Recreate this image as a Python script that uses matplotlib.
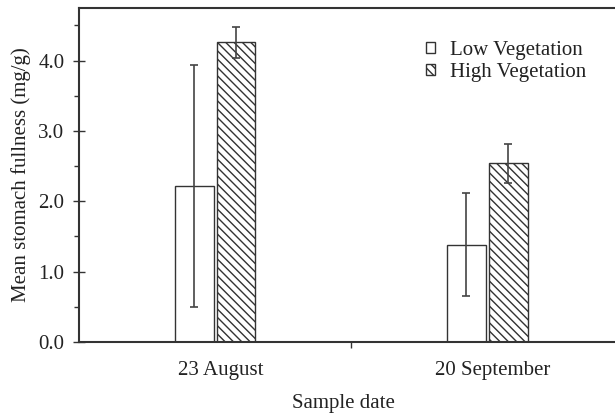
import numpy as np
import matplotlib
matplotlib.use('Agg')
import matplotlib.pyplot as plt
from matplotlib.ticker import MultipleLocator

plt.rcParams['font.family'] = ['Liberation Serif', 'DejaVu Serif']
plt.rcParams['hatch.linewidth'] = 1.0

# data
dates = ['23 August', '20 September']
low_mean = [2.22, 1.38]
low_lo = [0.50, 0.65]
low_hi = [3.94, 2.12]
high_mean = [4.26, 2.54]
high_lo = [4.04, 2.26]
high_hi = [4.48, 2.81]

x = np.arange(len(dates))
w = 0.143
off = 0.077
dark = '#333333'
txt = '#222222'
fs = 15

fig = plt.figure(figsize=(6.15, 4.16), dpi=100)
ax = fig.add_axes([0.1285, 0.178, 0.8715, 0.803])

low_err = [np.subtract(low_mean, low_lo), np.subtract(low_hi, low_mean)]
high_err = [np.subtract(high_mean, high_lo), np.subtract(high_hi, high_mean)]

ax.bar(x - off, low_mean, w, color='white', edgecolor=dark, linewidth=1.0,
       label='Low Vegetation', zorder=2)
ax.bar(x + off, high_mean, w, color='white', edgecolor=dark, linewidth=1.0,
       hatch='\\\\\\\\', label='High Vegetation', zorder=2)
ax.errorbar(x - off, low_mean, yerr=low_err, fmt='none', ecolor='#444444',
            elinewidth=1.2, capsize=3, capthick=1.2, zorder=3)
ax.errorbar(x + off, high_mean, yerr=high_err, fmt='none', ecolor='#444444',
            elinewidth=1.2, capsize=3, capthick=1.2, zorder=3)

ax.set_xlim(-0.5, 1.47)
ax.set_ylim(0, 4.75)
ax.set_xticks([0.5])
ax.set_xticklabels([''])
for xi, d in zip(x, dates):
    ax.text(xi + 0.02, -0.40, d, ha='center', va='center', fontsize=fs,
            color=txt)
ax.yaxis.set_major_locator(MultipleLocator(1.0))
ax.yaxis.set_minor_locator(MultipleLocator(0.5))
ax.set_yticklabels([f'{v:.1f}' for v in ax.get_yticks()])
ax.tick_params(axis='y', which='major', direction='inout', length=9, width=1.0,
               labelsize=fs, colors=dark, labelcolor=txt, pad=6)
ax.tick_params(axis='y', which='minor', length=3.5, width=1.0, colors=dark)
ax.tick_params(axis='x', length=4, width=1.0, colors=dark)

for s in ['left', 'top', 'bottom']:
    ax.spines[s].set_linewidth(1.5)
    ax.spines[s].set_color(dark)
ax.spines['right'].set_visible(False)

ax.set_ylabel('Mean stomach fullness (mg/g)', fontsize=fs, color=txt,
              labelpad=5)
fig.text(0.558, 0.031, 'Sample date', ha='center', va='center', fontsize=fs,
         color=txt)

leg = ax.legend(loc='upper left', bbox_to_anchor=(0.632, 0.925), frameon=False,
                fontsize=fs, handlelength=0.45, handleheight=0.45,
                handletextpad=0.7, labelspacing=0.12, borderaxespad=0)
for t in leg.get_texts():
    t.set_color(txt)

fig.savefig('out.png', dpi=100)
